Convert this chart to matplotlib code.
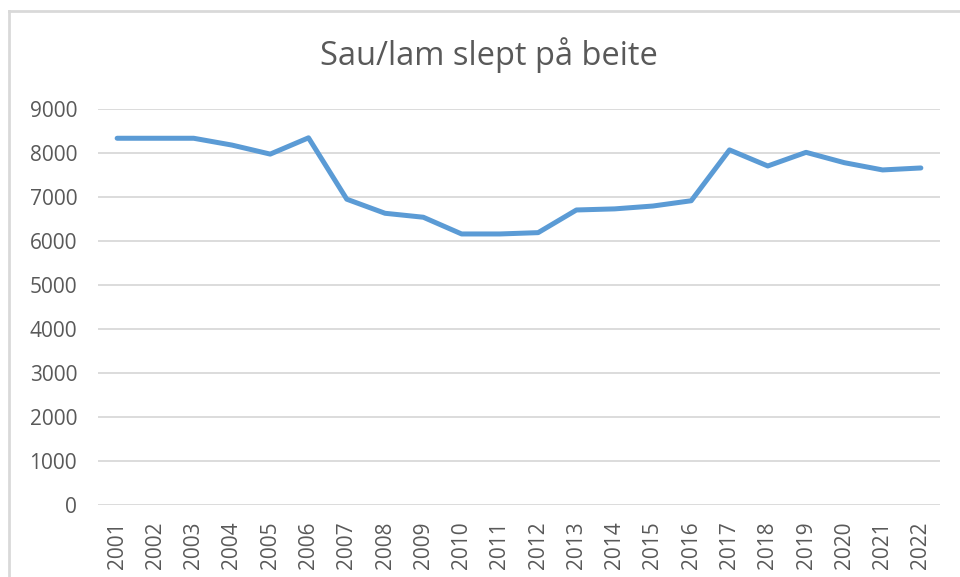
import matplotlib.pyplot as plt
from matplotlib.lines import Line2D

# Data
years = [str(y) for y in range(2001, 2023)]
sheep = [8335, 8335, 8335, 8180, 7975, 8345, 6950, 6630, 6540, 6160, 6160,
         6190, 6705, 6730, 6795, 6915, 8070, 7705, 8015, 7780, 7615, 7660]
y_ticks = [0, 1000, 2000, 3000, 4000, 5000, 6000, 7000, 8000, 9000]

plt.rcParams['font.family'] = ['Open Sans', 'DejaVu Sans']
text_color = '#595959'
grid_color = '#D9D9D9'

fig = plt.figure(figsize=(9.6, 5.77), dpi=100)
ax = fig.add_axes([98 / 960, 1 - 505 / 577, 842 / 960, 396 / 577])

x = list(range(len(years)))
ax.plot(x, sheep, color='#5B9BD5', linewidth=3.6, solid_joinstyle='round',
        solid_capstyle='round', zorder=3)

ax.set_xlim(-0.5, len(years) - 0.5)
ax.set_ylim(0, 9000)
ax.set_yticks(y_ticks)
ax.set_yticklabels([str(v) for v in y_ticks])
ax.set_xticks(x)
ax.set_xticklabels(years, rotation=90)
ax.tick_params(axis='both', length=0, labelsize=15, colors=text_color)
ax.tick_params(axis='y', pad=15)
ax.tick_params(axis='x', pad=12)
ax.grid(axis='y', color=grid_color, linewidth=1.3)
ax.set_axisbelow(True)
for s in ax.spines.values():
    s.set_visible(False)

fig.text(489 / 960, 1 - 55 / 577, 'Sau/lam slept på beite', ha='center', va='center',
         fontsize=23.5, color=text_color)

# chart border (top and left visible)
fig.add_artist(Line2D([9 / 960, 1], [1 - 11 / 577, 1 - 11 / 577], color=grid_color,
                      linewidth=2, transform=fig.transFigure))
fig.add_artist(Line2D([9 / 960, 9 / 960], [0, 1 - 11 / 577], color=grid_color,
                      linewidth=2, transform=fig.transFigure))

fig.savefig('out.png', dpi=100)
